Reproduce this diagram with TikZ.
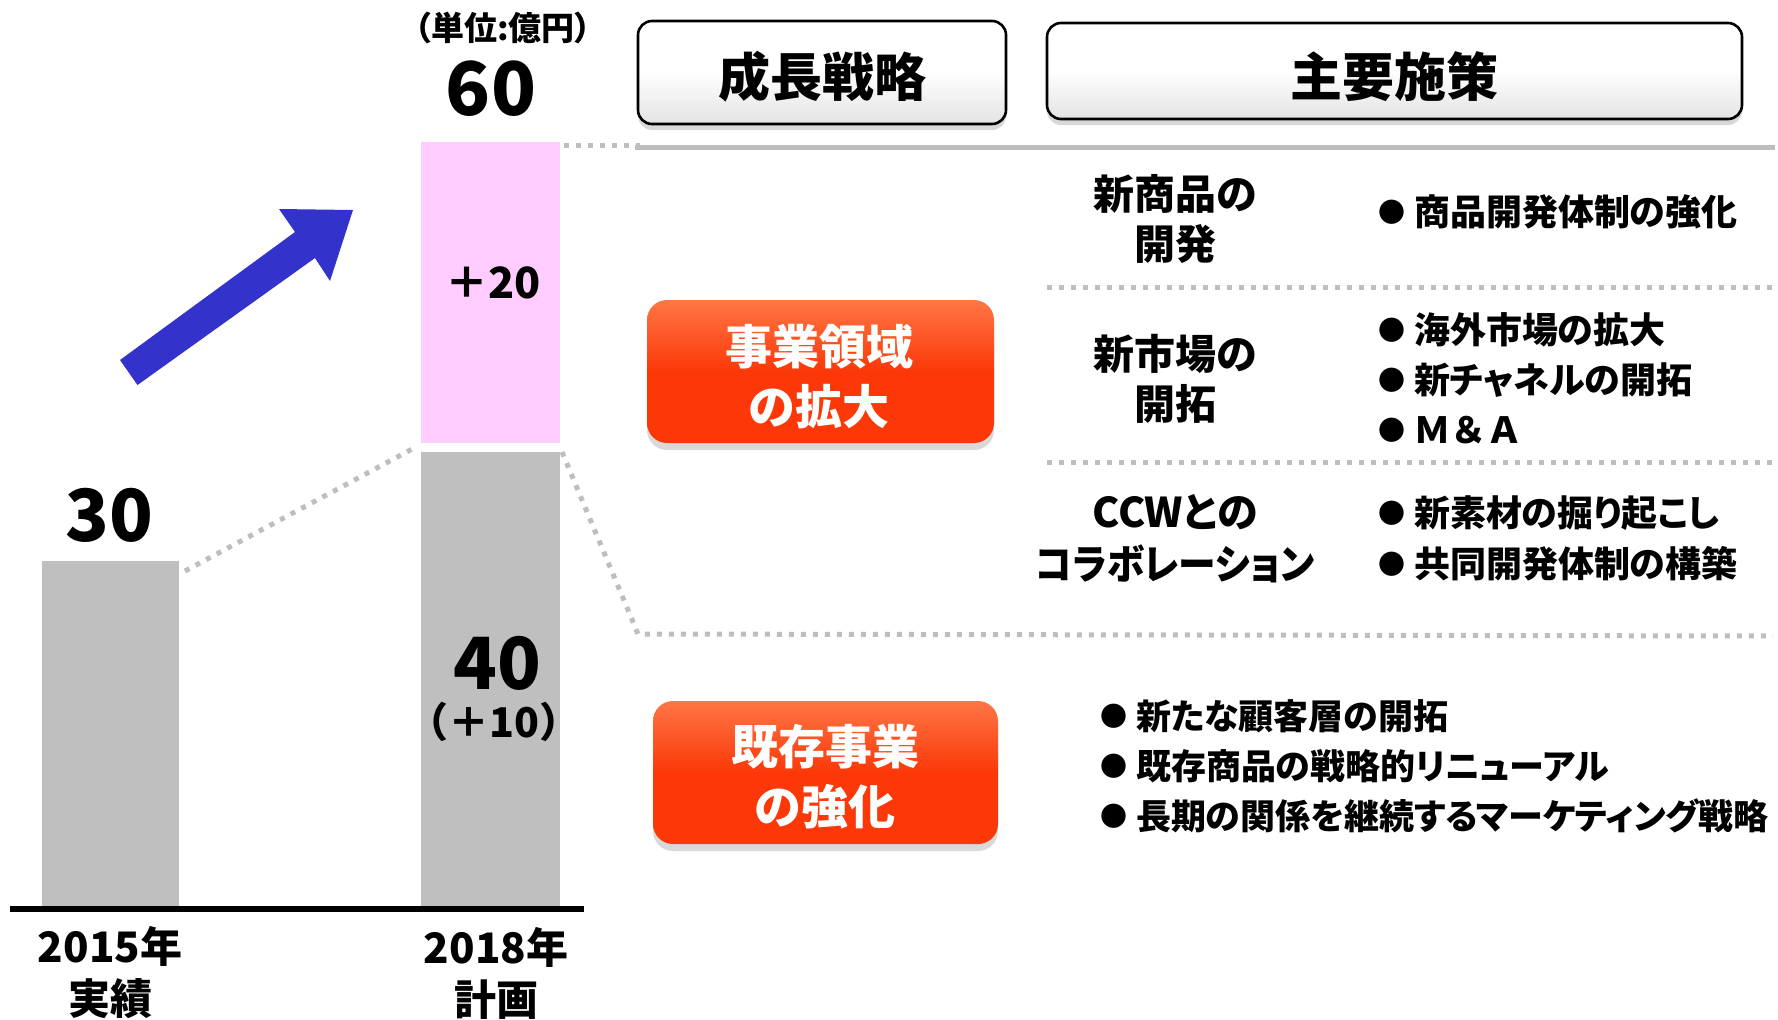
\documentclass[tikz,border=0pt]{standalone}
\usepackage{fontspec}
\setmainfont{Noto Sans CJK JP}[RawFeature=+palt]
\newfontfamily\jpfw{Noto Sans CJK JP}
\usetikzlibrary{shadows}
\newcommand\jfs[2]{\fontsize{#1}{#2}\selectfont\bfseries}
\newcommand\bul{\raisebox{1.6pt}{\fontsize{13.5}{13.5}\selectfont ●}\hspace{4.5pt}}
\definecolor{bargray}{RGB}{191,191,191}
\definecolor{barpink}{RGB}{255,204,255}
\definecolor{arrowblue}{RGB}{51,51,204}
\definecolor{redtop}{RGB}{255,118,70}
\definecolor{redmain}{RGB}{252,56,8}
\definecolor{dotgray}{RGB}{190,190,190}
\tikzset{
  jp/.style={inner sep=0pt, outer sep=0pt},
  bar/.style={inner sep=0pt, outer sep=0pt, draw=none, anchor=south west},
  dotline/.style={draw=dotgray, line width=2.5pt, dash pattern=on 2.5pt off 3.5pt},
  hdrbox/.style={draw=black, line width=1.3pt, rounded corners=7pt,
    top color=white, bottom color=gray!22, middle color=white,
    drop shadow={shadow xshift=0pt, shadow yshift=-3pt, opacity=0.3}},
  redbox/.style={draw=none, rounded corners=10pt,
    top color=redtop, bottom color=redmain, middle color=redmain,
    drop shadow={shadow xshift=0pt, shadow yshift=-3.5pt, opacity=0.3}},
  redtext/.style={jp, text=white, align=center, font=\jfs{23.5}{30}},
  bullets/.style={jp, anchor=west, align=left},
}
\begin{document}
\begin{tikzpicture}[x=0.5pt,y=-0.5pt]
\useasboundingbox (0,0) rectangle (1778,1019);

% bars
\node[bar, fill=bargray, minimum width=68.5pt, minimum height=172.5pt] (bar1) at (42,906) {};
\node[bar, fill=bargray, minimum width=69.5pt, minimum height=227pt] (bar2) at (421,906) {};
\node[bar, fill=barpink, minimum width=69.5pt, minimum height=150.5pt] (bar3) at (421,443) {};

% axis
\coordinate (axl) at (10,909);
\coordinate (axr) at (584,909);
\draw[line width=3pt] (axl) -- (axr);

% value labels
\node[jp, font=\jfs{16.5}{16.5}] (unit) at (503,28) {（単位:億円）};
\node[jp, font=\jfs{37}{37}] (v60) at (491,89) {60};
\node[jp, font={\jpfw\jfs{21.5}{21.5}}] (v20) at (493,283) {＋20};
\node[jp, font=\jfs{36}{36}] (v30) at (109,515) {30};
\node[jp, font=\jfs{36}{36}] (v40) at (497,663) {40};
\node[jp, font={\jpfw\jfs{20.5}{20.5}}] (v10) at (494,722) {（＋10）};
\node[jp, align=center, font=\jfs{21}{26}] (y15) at (110,973) {2015年\\実績};
\node[jp, align=center, font=\jfs{21}{26}] (y18) at (496,973) {2018年\\計画};

% blue arrow
\fill[arrowblue] (120,360) -- (295,232) -- (279,209) -- (353,210) -- (330,281) -- (315,258) -- (137.5,385) -- cycle;

% dotted connectors
\coordinate (c1) at (185,571);
\coordinate (c2) at (414,448);
\draw[dotline] (c1) -- (c2);
\coordinate (c3) at (564,145);
\coordinate (c4) at (640,145);
\draw[dotline] (c3) -- (c4);
\coordinate (c5) at (638,634);
\coordinate (c6) at (1773,636);
\draw[dotline] ([xshift=1pt]bar2.north east) -- (c5) -- (c6);
\coordinate (h1) at (635,147);
\coordinate (h2) at (1775,147);
\draw[draw=dotgray, line width=2.5pt] (h1) -- (h2);
\coordinate (d1a) at (1047,287);
\coordinate (d1b) at (1772,287);
\draw[dotline] (d1a) -- (d1b);
\coordinate (d2a) at (1047,462);
\coordinate (d2b) at (1772,462);
\draw[dotline] (d2a) -- (d2b);

% header boxes
\node[hdrbox, minimum width=184pt, minimum height=51.5pt] (hdr1) at (822,72.5) {};
\node[jp, font=\jfs{26}{26}] (hdr1t) at (822,77) {成長戦略};
\node[hdrbox, minimum width=347.5pt, minimum height=48pt] (hdr2) at (1394.5,71) {};
\node[jp, font=\jfs{26}{26}] (hdr2t) at (1394,77) {主要施策};

% red boxes
\node[redbox, minimum width=173.5pt, minimum height=71.5pt] (rb1) at (820.5,371.5) {};
\node[redtext] (rb1t) at (819,377) {事業領域\\の拡大};
\node[redbox, minimum width=172.5pt, minimum height=71.5pt] (rb2) at (825.5,772.5) {};
\node[redtext] (rb2t) at (825,777) {既存事業\\の強化};

% strategy column
\node[jp, align=center, font=\jfs{20.5}{25}] (s1) at (1175,219) {新商品の\\開発};
\node[jp, align=center, font=\jfs{20.5}{25}] (s2) at (1175,379) {新市場の\\開拓};
\node[jp, align=center, font=\jfs{20.5}{26}] (s3) at (1175,539) {CCWとの\\\scalebox{0.92}[1]{コラボレーション}};

% measures
\node[bullets, font=\jfs{18}{25}] (m1) at (1378,212) {\bul 商品開発体制の強化};
\node[bullets, font=\jfs{18}{25}] (m2) at (1378,378) {\bul 海外市場の拡大\\\bul 新チャネルの開拓\\\bul {\jpfw Ｍ＆Ａ}};
\node[bullets, font=\jfs{18}{25.5}] (m3) at (1378,538.5) {\bul 新素材の掘り起こし\\\bul 共同開発体制の構築};
\node[bullets, font=\jfs{17.5}{25}] (m4) at (1100,766) {\bul 新たな顧客層の開拓\\\bul 既存商品の戦略的リニューアル\\\bul 長期の関係を継続するマーケティング戦略};
\end{tikzpicture}
\end{document}
